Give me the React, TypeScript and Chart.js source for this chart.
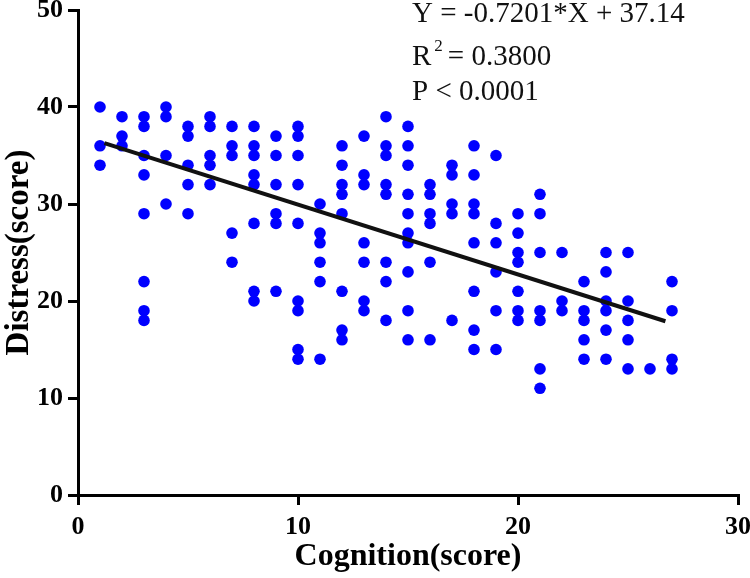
import React, { useEffect, useRef } from "react";
import { Chart, registerables } from "chart.js";

Chart.register(...registerables);

// Cognition (x) and Distress (y) scores, one entry per subject
const cognition = [
  1, 1, 1,
  2, 2, 2,
  3, 3, 3, 3, 3, 3, 3, 3,
  4, 4, 4, 4,
  5, 5, 5, 5, 5,
  6, 6, 6, 6, 6,
  7, 7, 7, 7, 7,
  8, 8, 8, 8, 8, 8, 8, 8,
  9, 9, 9, 9, 9, 9,
  10, 10, 10, 10, 10, 10, 10, 10, 10,
  11, 11, 11, 11, 11, 11,
  12, 12, 12, 12, 12, 12, 12, 12,
  13, 13, 13, 13, 13, 13, 13,
  14, 14, 14, 14, 14, 14, 14, 14,
  15, 15, 15, 15, 15, 15, 15, 15, 15, 15,
  16, 16, 16, 16, 16, 16,
  17, 17, 17, 17, 17,
  18, 18, 18, 18, 18, 18, 18, 18,
  19, 19, 19, 19, 19, 19,
  20, 20, 20, 20, 20, 20, 20,
  21, 21, 21, 21, 21, 21, 21,
  22, 22, 22,
  23, 23, 23, 23, 23,
  24, 24, 24, 24, 24, 24,
  25, 25, 25, 25, 25,
  26,
  27, 27, 27, 27,
];

const distress = [
  40, 36, 34,
  39, 37, 36,
  39, 38, 35, 33, 29, 22, 19, 18,
  40, 39, 35, 30,
  38, 37, 34, 32, 29,
  39, 38, 35, 34, 32,
  38, 36, 35, 27, 24,
  38, 36, 35, 33, 32, 28, 21, 20,
  37, 35, 32, 29, 28, 21,
  38, 37, 35, 32, 28, 20, 19, 15, 14,
  30, 27, 26, 24, 22, 14,
  36, 34, 32, 31, 29, 21, 17, 16,
  37, 33, 32, 26, 24, 20, 19,
  39, 36, 35, 32, 31, 24, 22, 18,
  38, 36, 34, 31, 29, 27, 26, 23, 19, 16,
  32, 31, 29, 28, 24, 16,
  34, 33, 30, 29, 18,
  36, 33, 30, 29, 26, 21, 17, 15,
  35, 28, 26, 23, 19, 15,
  29, 27, 25, 24, 21, 19, 18,
  31, 29, 25, 19, 18, 13, 11,
  25, 20, 19,
  22, 19, 18, 16, 14,
  25, 23, 20, 19, 17, 14,
  25, 20, 18, 16, 13,
  13,
  22, 19, 14, 13,
];

// Linear fit as printed on the chart
const fitSlope = -0.7201;
const fitIntercept = 37.14;
const fitXRange = [1.2, 26.7];

const xTicks = [0, 10, 20, 30];
const yTicks = [0, 10, 20, 30, 40, 50];

const equationText = "Y = -0.7201*X + 37.14";
const r2Text = "= 0.3800";
const pText = "P < 0.0001";

const SERIF = "'Liberation Serif', 'Times New Roman', Times, serif";

const annotationPlugin = {
  id: "fitAnnotation",
  afterDraw(chart: any) {
    const ctx = chart.ctx;
    ctx.save();
    ctx.fillStyle = "#111";
    ctx.textBaseline = "alphabetic";
    ctx.textAlign = "left";
    ctx.font = `29px ${SERIF}`;
    const x0 = 412;
    ctx.fillText(equationText, x0, 22);
    ctx.fillText("R", x0, 65);
    const rw = ctx.measureText("R").width;
    ctx.font = `17px ${SERIF}`;
    ctx.fillText("2", x0 + rw + 3, 51);
    const sw = ctx.measureText("2").width;
    ctx.font = `29px ${SERIF}`;
    ctx.fillText(r2Text, x0 + rw + 3 + sw + 5, 65);
    ctx.fillText(pText, x0, 100);
    ctx.restore();
  },
};

export default function App() {
  const ref = useRef<HTMLCanvasElement | null>(null);

  useEffect(() => {
    if (!ref.current) return;
    const points = cognition.map((c, i) => ({ x: c, y: distress[i] }));
    const fitLine = fitXRange.map((x) => ({ x, y: fitSlope * x + fitIntercept }));

    const zeroPad = (scale: any) => {
      scale.paddingTop = 0;
      scale.paddingBottom = 0;
      scale.paddingLeft = 0;
      scale.paddingRight = 0;
    };

    const chart = new Chart(ref.current, {
      type: "scatter",
      data: {
        datasets: [
          {
            type: "line",
            label: "Fit",
            data: fitLine,
            borderColor: "#111",
            borderWidth: 4,
            pointRadius: 0,
            showLine: true,
            fill: false,
          } as any,
          {
            label: "Subjects",
            data: points,
            backgroundColor: "#0000FF",
            borderColor: "#0000FF",
            borderWidth: 0,
            pointRadius: 5.8,
          },
        ],
      },
      options: {
        responsive: false,
        animation: false,
        layout: { padding: { top: 10, right: 12, left: 0, bottom: 0 } },
        plugins: {
          legend: { display: false },
          tooltip: { enabled: false },
        },
        scales: {
          x: {
            type: "linear",
            min: 0,
            max: 30,
            afterBuildTicks: (scale: any) => {
              scale.ticks = xTicks.map((v) => ({ value: v }));
            },
            afterFit: (scale: any) => {
              scale.height = 83;
              zeroPad(scale);
            },
            grid: {
              drawOnChartArea: false,
              drawTicks: true,
              tickLength: 10,
              color: "#000",
              lineWidth: 3,
            },
            border: { display: true, color: "#000", width: 3 },
            ticks: {
              color: "#000",
              padding: 7,
              maxRotation: 0,
              font: { family: SERIF, size: 26, weight: "bold" },
            },
            title: {
              display: true,
              text: "Cognition(score)",
              color: "#000",
              font: { family: SERIF, size: 32, weight: "bold" },
              padding: { top: 0, bottom: 2 },
            },
          },
          y: {
            type: "linear",
            min: 0,
            max: 50,
            afterBuildTicks: (scale: any) => {
              scale.ticks = yTicks.map((v) => ({ value: v }));
            },
            afterFit: (scale: any) => {
              scale.width = 78;
              zeroPad(scale);
            },
            grid: {
              drawOnChartArea: false,
              drawTicks: true,
              tickLength: 10,
              color: "#000",
              lineWidth: 3,
            },
            border: { display: true, color: "#000", width: 3 },
            ticks: {
              color: "#000",
              padding: 5,
              font: { family: SERIF, size: 26, weight: "bold" },
            },
            title: {
              display: true,
              text: "Distress(score)",
              color: "#000",
              font: { family: SERIF, size: 33, weight: "bold" },
              padding: { top: 0, bottom: 0 },
            },
          },
        },
      },
      plugins: [annotationPlugin],
    });
    return () => chart.destroy();
  }, []);

  return (
    <div style={{ position: "absolute", left: 0, top: 0, width: 750, height: 578, background: "#fff" }}>
      <canvas ref={ref} width={750} height={578} style={{ display: "block" }} />
    </div>
  );
}
